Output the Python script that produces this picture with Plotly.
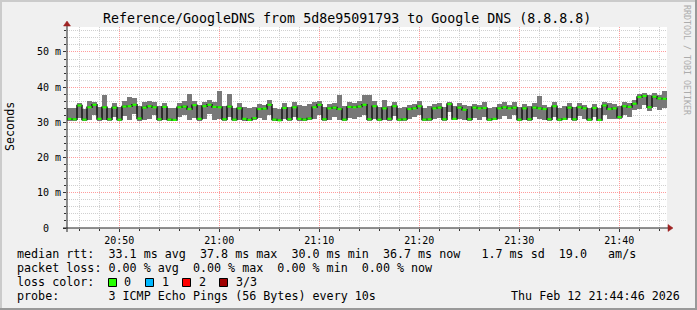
import plotly.graph_objects as go
from datetime import datetime, timedelta

# ---------------- data ----------------
start_time = datetime(2026, 2, 12, 20, 44, 46)
step_seconds = 30

median_ms = [
    31.0, 30.9, 34.8, 30.8, 34.3, 35.0, 31.0, 34.3, 30.9, 34.2,
    30.8, 34.5, 34.6, 35.0, 31.1, 34.2, 34.6, 34.3, 30.9, 34.4,
    30.8, 30.7, 34.3, 34.5, 33.8, 34.9, 31.0, 34.6, 35.0, 34.4,
    34.3, 30.9, 34.5, 30.8, 34.0, 31.0, 30.7, 31.2, 33.8, 33.9,
    35.0, 30.8, 30.6, 34.1, 30.9, 34.3, 31.0, 30.8, 31.1, 34.3,
    35.0, 30.9, 34.0, 34.2, 33.8, 30.8, 34.4, 34.3, 34.5, 35.0,
    30.9, 34.6, 30.8, 34.0, 31.0, 34.6, 30.8, 30.9, 33.8, 34.0,
    34.6, 30.8, 30.9, 34.0, 34.2, 30.9, 35.2, 31.0, 34.2, 33.6,
    30.9, 34.2, 34.0, 34.1, 30.8, 31.0, 34.0, 34.3, 34.0, 34.2,
    30.8, 34.0, 30.9, 34.2, 34.0, 33.8, 30.9, 34.6, 30.8, 31.0,
    34.2, 30.9, 34.3, 34.0, 30.8, 34.1, 30.7, 34.8, 33.8, 34.0,
    31.5, 34.6, 34.4, 35.3, 37.2, 37.5, 34.3, 37.3, 36.8, 36.7,
]
min_ms = [
    30.4, 30.5, 31.2, 30.4, 30.6, 32.0, 30.5, 30.8, 30.4, 31.5,
    30.4, 31.8, 30.6, 32.5, 30.5, 30.6, 31.0, 32.2, 30.4, 30.8,
    30.3, 30.4, 31.5, 32.0, 30.6, 31.2, 30.5, 30.9, 32.3, 30.7,
    31.0, 30.4, 31.6, 30.4, 30.6, 30.5, 30.3, 30.6, 31.2, 30.8,
    32.0, 30.4, 30.3, 30.9, 30.5, 31.4, 30.5, 30.4, 30.6, 31.0,
    32.2, 30.4, 30.8, 31.5, 30.7, 30.4, 31.2, 30.9, 31.6, 32.0,
    30.5, 31.0, 30.4, 30.8, 30.5, 31.8, 30.4, 30.5, 30.9, 31.5,
    32.0, 30.4, 30.5, 31.0, 31.3, 30.5, 33.0, 30.6, 30.9, 30.8,
    30.4, 31.2, 30.8, 31.5, 30.4, 30.6, 30.9, 31.8, 31.0, 32.0,
    30.4, 30.8, 30.5, 31.6, 30.9, 30.7, 30.4, 31.5, 30.4, 30.6,
    31.2, 30.5, 31.8, 30.9, 30.3, 31.4, 30.3, 32.0, 30.9, 31.0,
    30.9, 32.0, 31.5, 33.5, 33.8, 35.0, 33.2, 34.5, 33.6, 34.0,
]
max_ms = [
    34.2, 34.0, 35.5, 33.9, 36.0, 35.8, 34.5, 37.8, 34.0, 35.6,
    34.3, 36.0, 37.2, 37.0, 34.8, 35.9, 36.1, 35.8, 34.6, 35.5,
    34.2, 34.0, 35.6, 36.2, 38.2, 36.0, 35.0, 35.8, 36.4, 35.9,
    38.9, 34.6, 38.2, 34.0, 35.5, 34.3, 34.0, 34.5, 35.2, 35.0,
    36.4, 34.2, 33.8, 35.4, 34.5, 35.7, 35.0, 34.8, 35.1, 35.8,
    36.2, 34.3, 35.3, 35.6, 37.8, 34.6, 35.8, 35.5, 36.0, 37.8,
    37.8, 36.2, 34.4, 36.4, 34.8, 35.9, 34.2, 34.5, 35.0, 35.2,
    36.0, 34.1, 34.6, 35.3, 35.6, 34.4, 35.8, 34.7, 35.4, 34.9,
    34.6, 35.3, 35.0, 35.8, 34.2, 34.5, 35.2, 35.8, 35.0, 35.8,
    34.3, 35.2, 34.6, 35.4, 37.5, 35.0, 34.5, 35.9, 34.2, 34.6,
    35.4, 34.3, 35.6, 35.0, 34.0, 35.3, 34.2, 35.8, 35.5, 35.1,
    34.8, 35.7, 35.4, 36.3, 38.2, 38.4, 37.9, 38.3, 37.8, 38.8,
]

y_tick_values = [0, 10, 20, 30, 40, 50]
y_tick_labels = ["0\u00a0\u00a0", "10 m", "20 m", "30 m", "40 m", "50 m"]

title_text = "Reference/GoogleDNS from 5d8e95091793 to Google DNS (8.8.8.8)"
legend_rtt = "median rtt:  33.1 ms avg  37.8 ms max  30.0 ms min  36.7 ms now   1.7 ms sd  19.0   am/s"
legend_loss = "packet loss: 0.00 % avg  0.00 % max  0.00 % min  0.00 % now"
legend_color_label = "loss color:"
loss_names = ["0", "1", "2", "3/3"]
loss_colors = ["#26ff00", "#00b8ff", "#ff0000", "#a00000"]
legend_probe = "probe:       3 ICMP Echo Pings (56 Bytes) every 10s"
date_text = "Thu Feb 12 21:44:46 2026"
watermark = "RRDTOOL / TOBI OETIKER"

# ---------------- geometry helpers ----------------
W, H = 697, 310
L, R, T, B = 67, 30, 27, 82
PW, PH = W - L - R, H - T - B


def px(x):
    return (x - L) / PW


def py(y):
    return (H - B - y) / PH


MONO = "DejaVu Sans Mono"


def nb(s):
    return s.replace(" ", "\u00a0")


n = len(median_ms)
step = timedelta(seconds=step_seconds)
centers = [start_time + step * (i + 0.5) for i in range(n)]
edges = [start_time + step * i for i in range(n + 1)]
end_time = start_time + step * n

fig = go.Figure()

# smoke (min..max)
fig.add_trace(go.Bar(
    x=centers,
    y=[hi - lo for hi, lo in zip(max_ms, min_ms)],
    base=min_ms,
    width=step_seconds * 1000,
    marker=dict(color="#787878", line=dict(width=0)),
    hoverinfo="skip",
    showlegend=False,
))

# median step line
fig.add_trace(go.Scatter(
    x=edges,
    y=median_ms + [median_ms[-1]],
    mode="lines",
    line=dict(color="#151515", width=1.5, shape="hv"),
    hoverinfo="skip",
    showlegend=False,
))
# green median marks (loss 0)
fig.add_trace(go.Scatter(
    x=centers,
    y=median_ms,
    mode="markers",
    marker=dict(symbol="line-ew", size=3, line=dict(color=loss_colors[0], width=2.2)),
    hoverinfo="skip",
    showlegend=False,
))

grid_major = "#ff9c9c"
grid_minor = "#d0d0d0"

fig.update_layout(
    width=W, height=H, autosize=False,
    margin=dict(l=L, r=R, t=T, b=B, pad=0),
    paper_bgcolor="#f0f0f0",
    plot_bgcolor="#ffffff",
    bargap=0,
    showlegend=False,
    font=dict(family=MONO, color="#000000"),
    xaxis=dict(
        type="date",
        range=[start_time, end_time],
        tickmode="linear",
        tick0=datetime(2026, 2, 12, 20, 50, 0),
        dtick=600000,
        tickformat="%H:%M",
        tickfont=dict(family=MONO, size=10, color="#000000"),
        ticks="outside", ticklen=3, tickcolor="#333333",
        showgrid=True, gridcolor=grid_major, griddash="1px,1px", gridwidth=1,
        minor=dict(dtick=120000, tick0=datetime(2026, 2, 12, 20, 50, 0),
                   showgrid=True, gridcolor=grid_minor, griddash="1px,1px",
                   ticks="outside", ticklen=2, tickcolor="#333333"),
        showline=False, zeroline=False, fixedrange=True,
    ),
    yaxis=dict(
        range=[0, 57.1],
        tickmode="array",
        tickvals=y_tick_values,
        ticktext=y_tick_labels,
        tickfont=dict(family=MONO, size=10, color="#000000"),
        ticks="outside", ticklen=3, tickcolor="#333333",
        showgrid=True, gridcolor=grid_major, griddash="1px,1px", gridwidth=1,
        minor=dict(dtick=2, showgrid=True, gridcolor=grid_minor, griddash="1px,1px",
                   ticks="outside", ticklen=2, tickcolor="#333333"),
        showline=False, zeroline=False, fixedrange=True,
    ),
)

shapes = []
axis_col = "#222222"
arrow_col = "#9e2222"
# axes
shapes.append(dict(type="line", xref="paper", yref="paper", x0=px(63), x1=px(669), y0=py(228), y1=py(228),
                   line=dict(color=axis_col, width=1), layer="above"))
shapes.append(dict(type="line", xref="paper", yref="paper", x0=px(67), x1=px(67), y0=py(232), y1=py(25),
                   line=dict(color=axis_col, width=1), layer="above"))
# arrows
shapes.append(dict(type="path", xref="paper", yref="paper",
                   path=f"M {px(668)} {py(224.5)} L {px(673)} {py(228)} L {px(668)} {py(231.5)} Z",
                   fillcolor=arrow_col, line=dict(color=arrow_col, width=0.5), layer="above"))
shapes.append(dict(type="path", xref="paper", yref="paper",
                   path=f"M {px(63.5)} {py(26)} L {px(67)} {py(21)} L {px(70.5)} {py(26)} Z",
                   fillcolor=arrow_col, line=dict(color=arrow_col, width=0.5), layer="above"))
# frame shading
shapes.append(dict(type="rect", xref="paper", yref="paper", x0=px(0), x1=px(W), y0=py(0), y1=py(2),
                   fillcolor="#cbcbcb", line=dict(width=0), layer="above"))
shapes.append(dict(type="rect", xref="paper", yref="paper", x0=px(0), x1=px(2), y0=py(0), y1=py(H),
                   fillcolor="#cbcbcb", line=dict(width=0), layer="above"))
shapes.append(dict(type="rect", xref="paper", yref="paper", x0=px(0), x1=px(W), y0=py(H - 2), y1=py(H),
                   fillcolor="#999999", line=dict(width=0), layer="above"))
shapes.append(dict(type="rect", xref="paper", yref="paper", x0=px(W - 2), x1=px(W), y0=py(0), y1=py(H),
                   fillcolor="#999999", line=dict(width=0), layer="above"))

# loss colour boxes
box_x = [108.5, 145.5, 182.5, 219.5]
label_x = [123, 161, 198, 235]
for bx, col in zip(box_x, loss_colors):
    shapes.append(dict(type="rect", xref="paper", yref="paper", x0=px(bx), x1=px(bx + 8),
                       y0=py(278.5), y1=py(286.5), fillcolor=col,
                       line=dict(color="#000000", width=1), layer="above"))

annotations = []


def text(s, x, y, size, xanchor="left", color="#000000", angle=0):
    annotations.append(dict(text=nb(s), x=px(x), y=py(y), xref="paper", yref="paper",
                            xanchor=xanchor, yanchor="middle", showarrow=False,
                            borderpad=0, textangle=angle,
                            font=dict(family=MONO, size=size, color=color)))


text(title_text, 347, 19, 13.3, xanchor="center")
text("Seconds", 10, 127, 11.7, xanchor="center", angle=-90)
text(watermark, 687, 60, 8.3, xanchor="center", color="#acacac", angle=90)
text(legend_rtt, 16, 254, 11.7)
text(legend_loss, 16, 268, 11.7)
text(legend_color_label, 16, 282, 11.7)
for lx, name in zip(label_x, loss_names):
    text(name, lx, 282, 11.7)
text(legend_probe, 16, 296, 11.7)
text(date_text, 681, 296, 11.7, xanchor="right")

fig.update_layout(shapes=shapes, annotations=annotations)

fig.write_html("out.html")
